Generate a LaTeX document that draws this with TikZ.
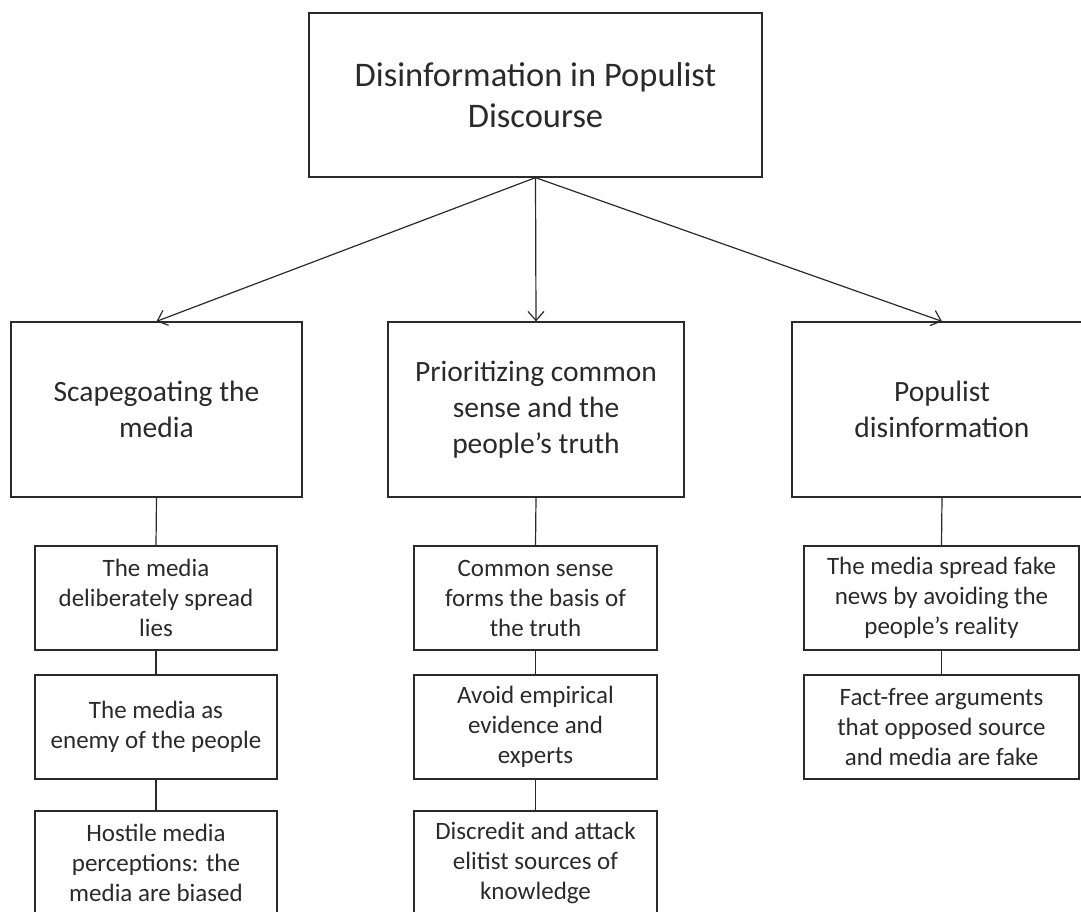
\documentclass[tikz,border=0pt]{standalone}
\usepackage{fontspec}
\setmainfont{Carlito}
\usetikzlibrary{arrows.meta}
\definecolor{ink}{HTML}{2A2A2A}
\begin{document}
\begin{tikzpicture}[x=1pt,y=-1pt,
  box/.style={draw=ink, line width=1.3pt, text=ink, align=center, inner sep=0pt},
  topbox/.style={box, minimum width=453pt, minimum height=164pt, font=\fontsize{34.5}{41.5}\selectfont},
  midbox/.style={box, minimum height=175pt, font=\fontsize{29.5}{36}\selectfont},
  subbox/.style={box, minimum height=104pt, font=\fontsize{25}{30}\selectfont},
  arr/.style={draw=ink, line width=1.2pt, -{Straight Barb[length=9pt,width=16pt]}},
  link/.style={draw=ink, line width=1.2pt}]
\useasboundingbox (0,0) rectangle (1081,912);
\clip (0,0) rectangle (1081,912);

\node[topbox] (top) at (535.5,95) {Disinformation in Populist\\Discourse};

\node[midbox, minimum width=291pt] (l) at (156.5,409.5) {Scapegoating the\\media};
\node[midbox, minimum width=296pt] (m) at (536,409.5) {Prioritizing common\\sense and the\\people’s truth};
\node[midbox, minimum width=300pt] (r) at (942,409.5) {Populist\\disinformation};

\node[subbox, minimum width=242pt] (l1) at (156,598) {The media\\deliberately spread\\lies};
\node[subbox, minimum width=242pt] (l2) at (156,727) {The media as\\enemy of the people};
\node[subbox, minimum width=242pt] (l3) at (156,863) {Hostile media\\perceptions: the\\media are biased};

\node[subbox, minimum width=243pt] (m1) at (535.5,598) {Common sense\\forms the basis of\\the truth};
\node[subbox, minimum width=243pt] (m2) at (535.5,727) {Avoid empirical\\evidence and\\experts};
\node[subbox, minimum width=243pt] (m3) at (535.5,863) {Discredit and attack\\elitist sources of\\knowledge};

\node[subbox, minimum width=275pt] (r1) at (941.5,598) {The media spread fake\\news by avoiding the\\people’s reality};
\node[subbox, minimum width=275pt] (r2) at (941.5,727) {Fact-free arguments\\that opposed source\\and media are fake};

\draw[arr] (top.south) -- (l.north);
\draw[arr] (top.south) -- (m.north);
\draw[arr] (top.south) -- (r.north);

\draw[link] (l.south) -- (l1.north);
\draw[link] (l1.south) -- (l2.north);
\draw[link] (l2.south) -- (l3.north);
\draw[link] (m.south) -- (m1.north);
\draw[link] (m1.south) -- (m2.north);
\draw[link] (m2.south) -- (m3.north);
\draw[link] (r.south) -- (r1.north);
\draw[link] (r1.south) -- (r2.north);
\end{tikzpicture}
\end{document}
